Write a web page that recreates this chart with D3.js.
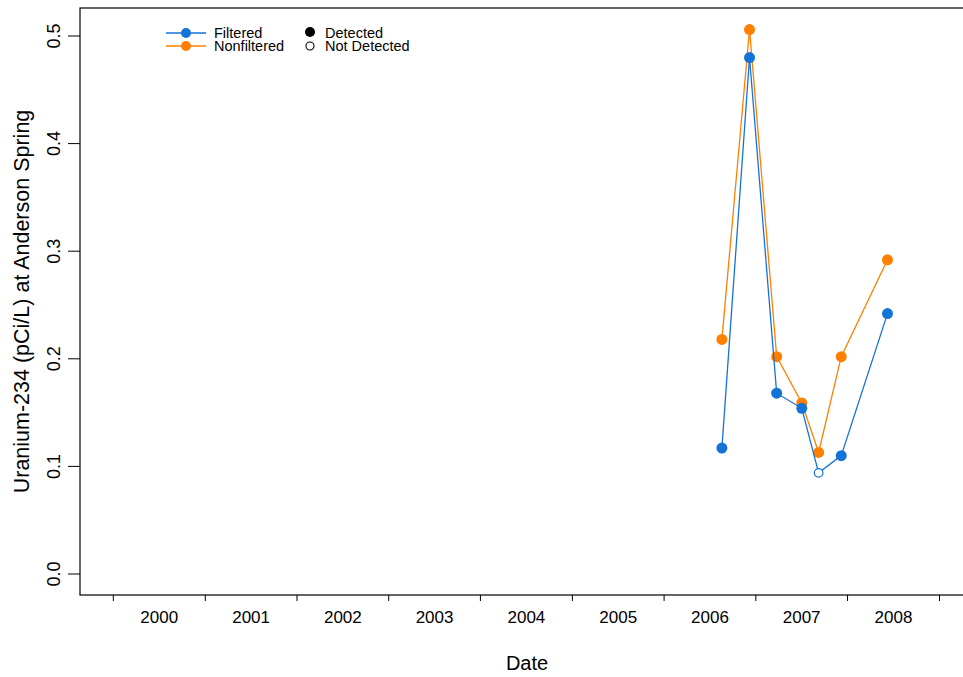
<!DOCTYPE html>
<html>
<head>
<meta charset="utf-8">
<script src="https://cdn.jsdelivr.net/npm/d3@7"></script>
<style>
  html, body { margin: 0; padding: 0; background: #fff; }
  svg { display: block; font-family: "Liberation Sans", Arial, sans-serif; }
</style>
</head>
<body>
<svg id="chart" width="963" height="677"></svg>
<script>
// ---- data ----
const dates = ["2006-08-19", "2006-12-07", "2007-03-25", "2007-07-03", "2007-09-08", "2007-12-07", "2008-06-08"];
const filteredValues = [0.117, 0.480, 0.168, 0.154, 0.094, 0.110, 0.242];
const filteredDetected = [true, true, true, true, false, true, true];
const nonfilteredValues = [0.218, 0.506, 0.202, 0.159, 0.113, 0.202, 0.292];
const nonfilteredDetected = [true, true, true, true, true, true, true];
const yTicks = [0.0, 0.1, 0.2, 0.3, 0.4, 0.5];
const yearTicks = [2000, 2001, 2002, 2003, 2004, 2005, 2006, 2007, 2008, 2009];
const yearLabels = ["2000", "2001", "2002", "2003", "2004", "2005", "2006", "2007", "2008"];

const blue = "#1473D6";
const orange = "#FF7F00";

const svg = d3.select("#chart");
const parse = d3.timeParse("%Y-%m-%d");

const plot = { left: 80, top: 8, right: 966, bottom: 595 };

const x = d3.scaleTime()
  .domain([new Date(2000, 0, 1), new Date(2009, 0, 1)])
  .range([113.3, 939.5]);
const y = d3.scaleLinear().domain([0, 0.5]).range([574, 36]);

// plot box
svg.append("rect")
  .attr("x", plot.left).attr("y", plot.top)
  .attr("width", plot.right - plot.left).attr("height", plot.bottom - plot.top)
  .attr("fill", "none").attr("stroke", "#000").attr("stroke-width", 1.2);

// y axis
const yAxis = svg.append("g");
yTicks.forEach(t => {
  yAxis.append("line")
    .attr("x1", plot.left - 12).attr("x2", plot.left)
    .attr("y1", y(t)).attr("y2", y(t))
    .attr("stroke", "#000").attr("stroke-width", 1);
  yAxis.append("text")
    .attr("transform", `translate(60,${y(t)}) rotate(-90)`)
    .attr("text-anchor", "middle")
    .attr("font-size", 18)
    .text(d3.format(".1f")(t));
});

// x axis
const xAxis = svg.append("g");
yearTicks.forEach(yr => {
  const xp = x(new Date(yr, 0, 1));
  xAxis.append("line")
    .attr("x1", xp).attr("x2", xp)
    .attr("y1", plot.bottom).attr("y2", plot.bottom + 6)
    .attr("stroke", "#000").attr("stroke-width", 1);
});
yearLabels.forEach(lbl => {
  const yr = +lbl;
  const mid = new Date((new Date(yr, 0, 1).getTime() + new Date(yr + 1, 0, 1).getTime()) / 2);
  xAxis.append("text")
    .attr("x", x(mid)).attr("y", 623)
    .attr("text-anchor", "middle")
    .attr("font-size", 17)
    .text(lbl);
});

// axis titles
svg.append("text")
  .attr("x", 527).attr("y", 670)
  .attr("text-anchor", "middle")
  .attr("font-size", 20)
  .text("Date");
svg.append("text")
  .attr("transform", `translate(29,${(plot.top + plot.bottom) / 2}) rotate(-90)`)
  .attr("text-anchor", "middle")
  .attr("font-size", 21.5)
  .text("Uranium-234 (pCi/L) at Anderson Spring");

// series
function drawSeries(values, detected, color) {
  const pts = dates.map((d, i) => ({ date: parse(d), v: values[i], det: detected[i] }));
  const line = d3.line().x(d => x(d.date)).y(d => y(d.v));
  svg.append("path")
    .attr("d", line(pts))
    .attr("fill", "none").attr("stroke", color).attr("stroke-width", 1.3);
  svg.append("g").selectAll("circle")
    .data(pts).join("circle")
    .attr("cx", d => x(d.date)).attr("cy", d => y(d.v))
    .attr("r", d => d.det ? 5.5 : 4.3)
    .attr("fill", d => d.det ? color : "#fff")
    .attr("stroke", color)
    .attr("stroke-width", d => d.det ? 0 : 1.2);
}
drawSeries(nonfilteredValues, nonfilteredDetected, orange);
drawSeries(filteredValues, filteredDetected, blue);

// legend
const legend = svg.append("g");
const legRows = [
  { label: "Filtered", color: blue, yy: 33 },
  { label: "Nonfiltered", color: orange, yy: 46 }
];
legRows.forEach(r => {
  legend.append("line")
    .attr("x1", 166).attr("x2", 206).attr("y1", r.yy).attr("y2", r.yy)
    .attr("stroke", r.color).attr("stroke-width", 1.3);
  legend.append("circle")
    .attr("cx", 186).attr("cy", r.yy).attr("r", 5).attr("fill", r.color);
  legend.append("text")
    .attr("x", 214).attr("y", r.yy + 5)
    .attr("font-size", 14.5)
    .text(r.label);
});
legend.append("circle").attr("cx", 310).attr("cy", 32).attr("r", 5).attr("fill", "#000");
legend.append("text").attr("x", 325).attr("y", 38).attr("font-size", 14.5).text("Detected");
legend.append("circle").attr("cx", 310).attr("cy", 46).attr("r", 4).attr("fill", "#fff")
  .attr("stroke", "#000").attr("stroke-width", 1.1);
legend.append("text").attr("x", 325).attr("y", 51).attr("font-size", 14.5).text("Not Detected");
</script>
</body>
</html>
